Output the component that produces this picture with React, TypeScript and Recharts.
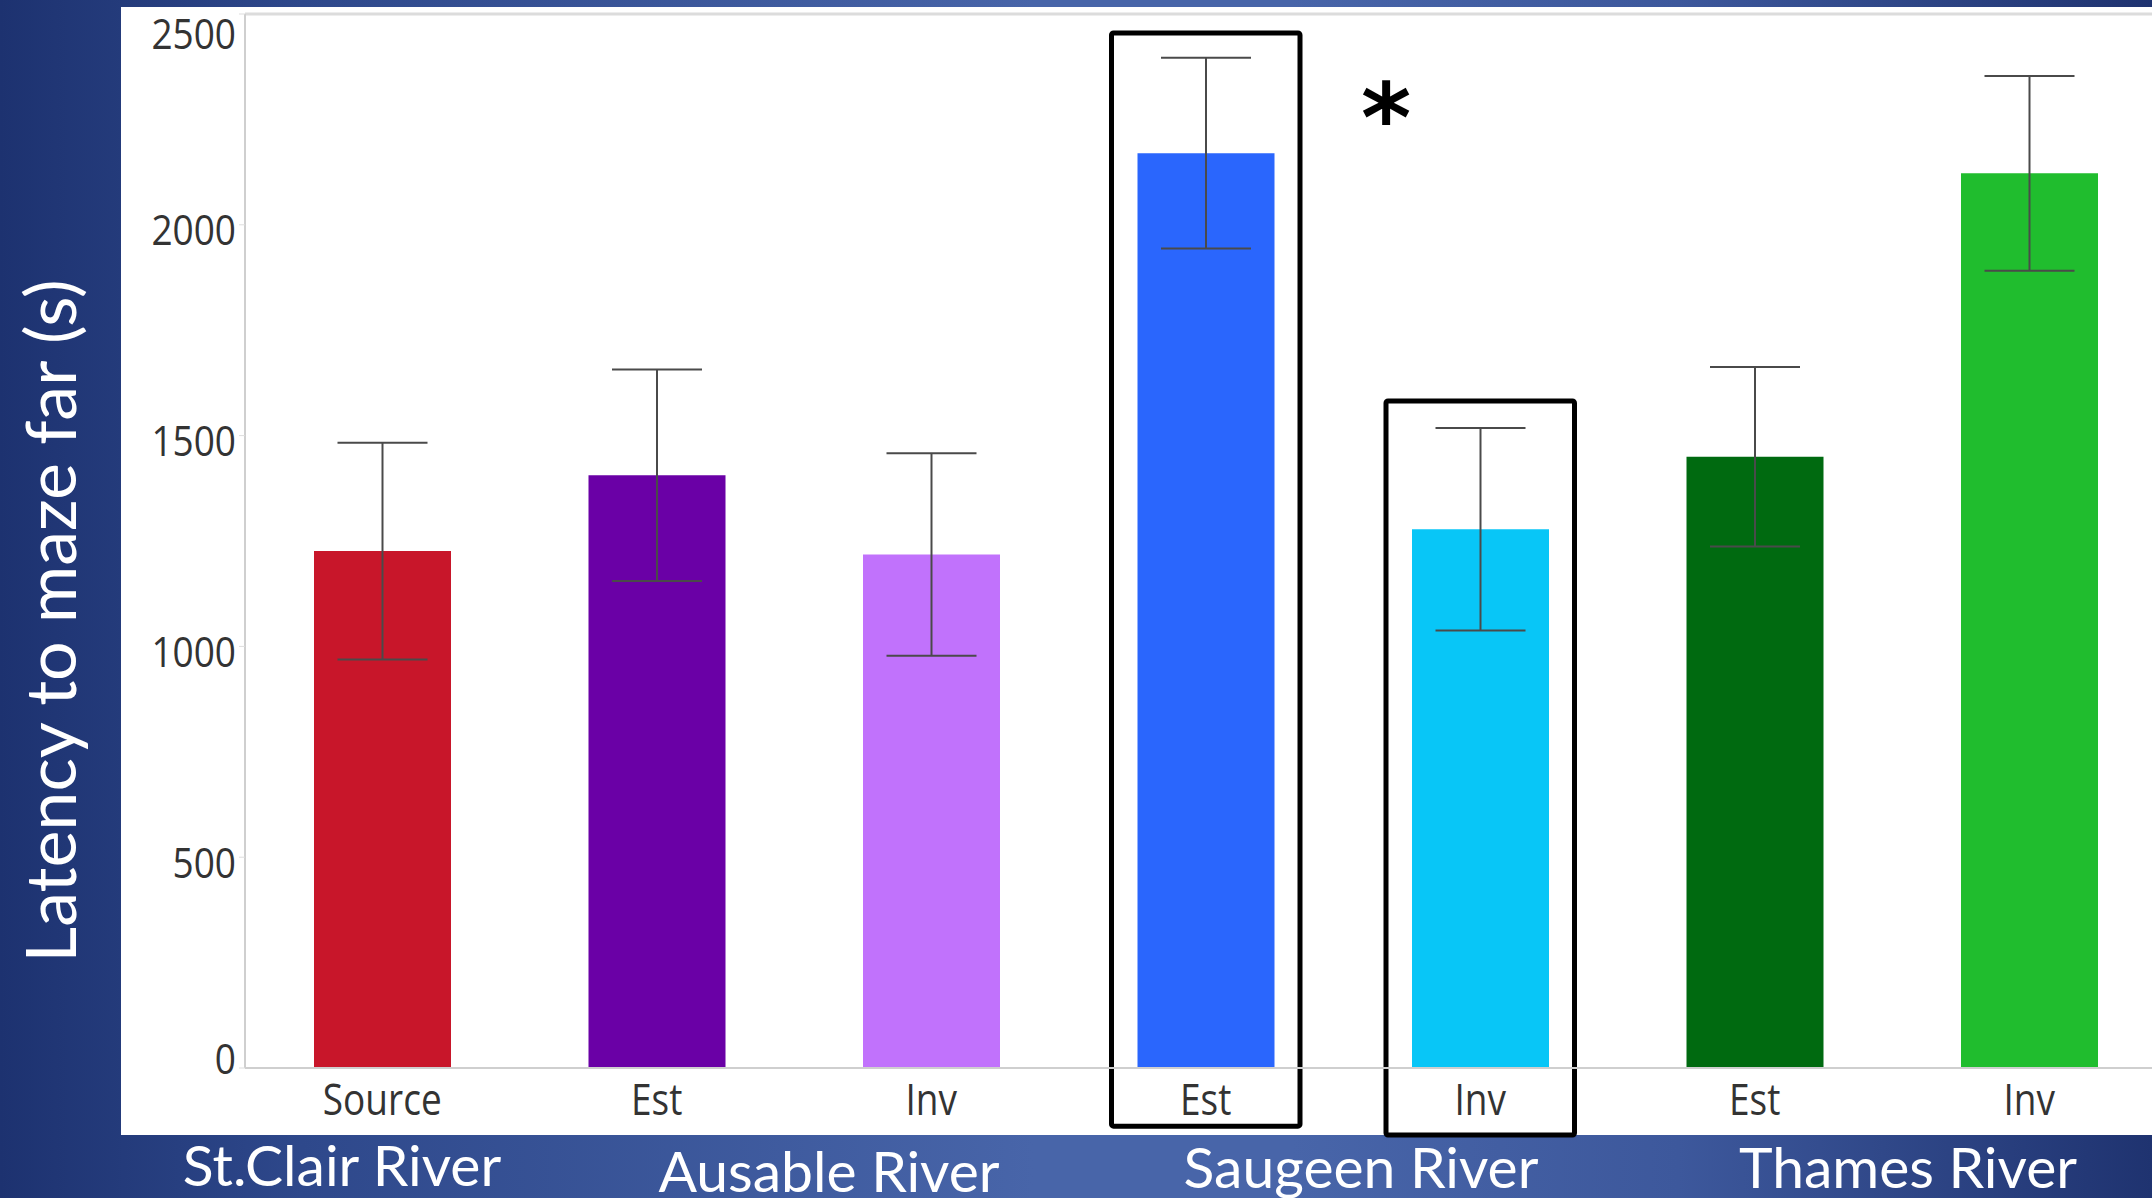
import {
  Bar,
  BarChart,
  Cell,
  ErrorBar,
  ReferenceArea,
  ReferenceLine,
  XAxis,
  YAxis,
} from "recharts";

// rivers and the sites sampled along each
const rivers = ["St.Clair River", "Ausable River", "Saugeen River", "Thames River"];
const sites = ["Source", "Est", "Inv", "Est", "Inv", "Est", "Inv"];
const siteRiver = [0, 1, 1, 2, 2, 3, 3];

// mean latency to the far end of the maze (s) and its standard error
const latency = [1226, 1406, 1218, 2170, 1278, 1450, 2122];
const stdErr = [257, 251, 240, 226, 240, 213, 231];

const yTicks = [0, 500, 1000, 1500, 2000, 2500];

// sites singled out in the comparison
const highlighted = [3, 4];

const barColors = ["#c8162a", "#6a00a6", "#c172fc", "#2a66fd", "#08c6f7", "#006a10", "#20bd2e"];

const W = 2152;
const H = 1198;

const chartData = sites.map((s, i) => ({
  id: `${rivers[siteRiver[i]]} ${s}`,
  site: s,
  latency: latency[i],
  err: stdErr[i],
}));

// box outlines: top / bottom in axis units, per highlighted site
const boxSpan: Record<number, [number, number]> = {
  3: [2455, -138],
  4: [1582, -159],
};

// river captions under the panel
const riverLabelX = [342, 829, 1361, 1908];
const riverLabelBase = [1184, 1190, 1186, 1186];

function YTick(props: any) {
  const { x, y, payload, index, visibleTicksCount } = props;
  let cy = y + 4;
  if (index === 0) cy = y - 11;
  if (index === visibleTicksCount - 1) cy = y + 18;
  return (
    <text
      x={x}
      y={cy}
      textAnchor="end"
      dominantBaseline="central"
      fontFamily="'Open Sans', sans-serif"
      fontSize={37}
      fill="#333"
      transform={`translate(0 ${cy}) scale(1 1.15) translate(0 ${-cy})`}
    >
      {payload.value}
    </text>
  );
}

function XTick(props: any) {
  const { x, y, payload } = props;
  const row = chartData.find((d) => d.id === payload.value);
  const by = y + 47;
  return (
    <text
      x={x}
      y={by}
      textAnchor="middle"
      fontFamily="'Open Sans', sans-serif"
      fontSize={37}
      fill="#333"
      transform={`translate(0 ${by}) scale(1 1.18) translate(0 ${-by})`}
    >
      {row ? row.site : payload.value}
    </text>
  );
}

function OutlineBox(props: any) {
  const { x, y, width, height } = props;
  const inset = 43;
  return (
    <rect
      x={x + inset}
      y={y}
      width={width - inset * 2}
      height={height}
      fill="none"
      stroke="#000"
      strokeWidth={5}
      rx={2}
    />
  );
}

export default function App() {
  return (
    <div
      style={{
        position: "fixed",
        left: 0,
        top: 0,
        width: W,
        height: H,
        overflow: "hidden",
        background:
          "linear-gradient(to right, #1d3270 0%, #2e488b 14%, #4865a9 48%, #4865a9 60%, #3d589c 78%, #1f3370 100%)",
      }}
    >
      <div
        style={{
          position: "absolute",
          left: 121,
          top: 7,
          width: W - 121,
          height: 1128,
          background: "#fff",
        }}
      />
      <div
        style={{
          position: "absolute",
          left: 49,
          top: 621,
          transform: "translate(-50%, -50%) rotate(-90deg)",
          whiteSpace: "nowrap",
          color: "#fff",
          fontFamily: "Lato, sans-serif",
          fontSize: 70,
          lineHeight: 1,
        }}
      >
        Latency to maze far (s)
      </div>
      <div style={{ position: "absolute", left: 0, top: 0 }}>
        <BarChart
          width={2190}
          height={H}
          data={chartData}
          margin={{ top: 14, right: 23.5, left: 0, bottom: 63 }}
        >
          <ReferenceLine y={2500} stroke="#dcdcdc" strokeWidth={3} />
          <XAxis
            dataKey="id"
            height={67}
            interval={0}
            tickLine={false}
            tickSize={0}
            tickMargin={0}
            axisLine={{ stroke: "#cfcfcf", strokeWidth: 2 }}
            tick={<XTick />}
          />
          <YAxis
            width={245}
            domain={[0, 2500]}
            ticks={yTicks}
            interval={0}
            tickSize={6}
            tickMargin={3}
            tickLine={{ stroke: "#dddddd" }}
            axisLine={{ stroke: "#cfcfcf", strokeWidth: 2 }}
            tick={<YTick />}
          />
          <Bar dataKey="latency" barSize={137} isAnimationActive={false}>
            {chartData.map((d, i) => (
              <Cell key={d.id} fill={barColors[i]} />
            ))}
            <ErrorBar dataKey="err" width={45} stroke="#4a4a4a" strokeWidth={2} />
          </Bar>
          {highlighted.map((i) => (
            <ReferenceArea
              key={i}
              x1={chartData[i].id}
              x2={chartData[i].id}
              y1={boxSpan[i][1]}
              y2={boxSpan[i][0]}
              ifOverflow="visible"
              shape={<OutlineBox />}
            />
          ))}
        </BarChart>
      </div>
      <div
        style={{
          position: "absolute",
          left: 1386,
          top: 100,
          transform: "translate(-50%, -30%)",
          fontFamily: "'DejaVu Sans', sans-serif",
          fontWeight: 700,
          fontSize: 96,
          lineHeight: 1,
          color: "#000",
        }}
      >
        *
      </div>
      {rivers.map((r, i) => (
        <div
          key={r}
          style={{
            position: "absolute",
            left: riverLabelX[i],
            top: riverLabelBase[i] - 48,
            transform: "translateX(-50%)",
            whiteSpace: "nowrap",
            color: "#fff",
            fontFamily: "Lato, sans-serif",
            fontSize: 57,
            lineHeight: "56px",
          }}
        >
          {r}
        </div>
      ))}
    </div>
  );
}
